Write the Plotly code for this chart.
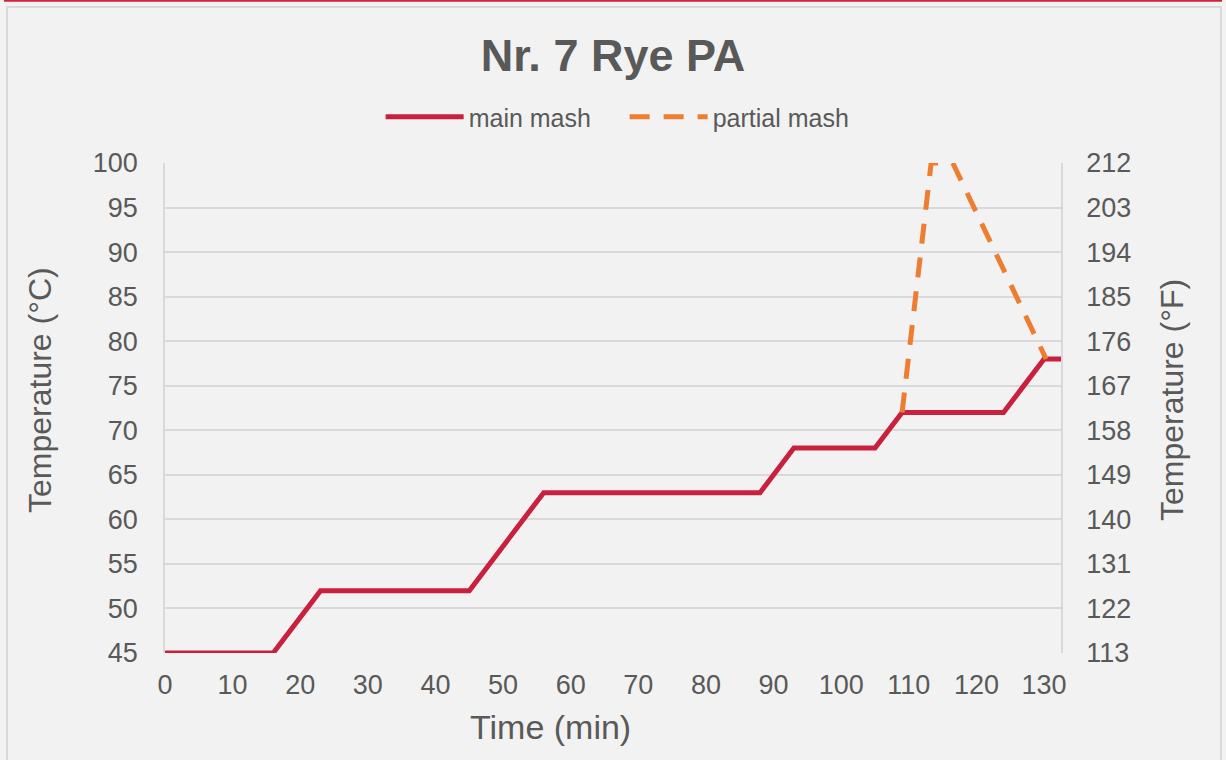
import plotly.graph_objects as go

# ---- data ----
main_time = [0, 16, 23, 45, 56, 88, 93, 105, 109, 124, 130, 132.5]
main_temp = [45, 45, 52, 52, 63, 63, 68, 68, 72, 72, 78, 78]

partial_time = [109, 113.3, 116.5, 130.3]
partial_temp = [72, 100, 100, 78]

title_text = "Nr. 7 Rye PA"
x_title = "Time (min)"
y_title = "Temperature (°C)"
y2_title = "Temperature (°F)"

x_ticks = list(range(0, 131, 10))
y_ticks = list(range(45, 101, 5))
y2_ticks = list(range(113, 213, 9))

TXT = "#595959"
GRID = "#d9d9d9"
FONT = "Liberation Sans, Arial, sans-serif"

main_temp_f = [c * 9 / 5 + 32 for c in main_temp]

fig = go.Figure()
fig.add_trace(go.Scatter(
    x=main_time, y=main_temp, mode="lines", name="main mash",
    line=dict(color="#C9203E", width=5),
))
fig.add_trace(go.Scatter(
    x=partial_time, y=partial_temp, mode="lines", name="partial mash",
    line=dict(color="#ED7D31", width=5, dash="20px,14px"),
))
# invisible trace to carry the Fahrenheit axis
fig.add_trace(go.Scatter(
    x=main_time, y=main_temp_f, mode="lines", yaxis="y2",
    line=dict(color="rgba(0,0,0,0)", width=0),
    showlegend=False, hoverinfo="skip",
))

L, R, T, B = 165, 165, 163, 107
W, H = 1226, 760
pw, ph = W - L - R, H - T - B

def px(xp):
    return (xp - L) / pw

def py(yp):
    return (H - B - yp) / ph

shapes = [
    dict(type="rect", xref="paper", yref="paper",
         x0=px(7), x1=px(1221), y0=py(770), y1=py(7),
         line=dict(color=GRID, width=2), fillcolor="#f2f2f2", layer="below"),
    dict(type="line", xref="paper", yref="paper",
         x0=px(4), x1=px(1222), y0=py(0.8), y1=py(0.8),
         line=dict(color="#D0203E", width=2)),
]

annotations = [
    dict(text=x_title, xref="paper", yref="paper", x=px(550), y=py(727),
         showarrow=False, font=dict(size=34, color=TXT, family=FONT),
         xanchor="center", yanchor="middle"),
    dict(text=y_title, xref="paper", yref="paper", x=px(40), y=py(390),
         showarrow=False, font=dict(size=32, color=TXT, family=FONT),
         textangle=-90, xanchor="center", yanchor="middle"),
    dict(text=y2_title, xref="paper", yref="paper", x=px(1172), y=py(400),
         showarrow=False, font=dict(size=32, color=TXT, family=FONT),
         textangle=-90, xanchor="center", yanchor="middle"),
]

fig.update_layout(
    width=W, height=H,
    margin=dict(l=L, r=R, t=T, b=B, pad=0),
    paper_bgcolor="#f2f2f2", plot_bgcolor="#f2f2f2",
    font=dict(family=FONT, color=TXT),
    title=dict(text="<b>" + title_text + "</b>", x=0.5, xanchor="center",
               y=1 - 55 / H, yanchor="middle", yref="container",
               font=dict(size=45, color=TXT, family=FONT)),
    legend=dict(orientation="h", x=0.513, xanchor="center", y=py(117),
                yanchor="middle", font=dict(size=25, color=TXT, family=FONT),
                bgcolor="rgba(0,0,0,0)", itemwidth=78,
                entrywidth=151, entrywidthmode="pixels"),
    showlegend=True,
    xaxis=dict(range=[0, 132.5], tickvals=x_ticks, showgrid=False,
               zeroline=False, showline=False, ticks="",
               tickfont=dict(size=27, color=TXT, family=FONT),
               ticklabelstandoff=13),
    yaxis=dict(range=[45, 100], tickvals=y_ticks, showgrid=True,
               gridcolor=GRID, gridwidth=1.5, zeroline=False,
               showline=True, linecolor=GRID, linewidth=1.5, ticks="",
               tickfont=dict(size=27, color=TXT, family=FONT),
               ticklabelstandoff=20),
    yaxis2=dict(range=[113, 212], tickvals=y2_ticks, overlaying="y",
                side="right", showgrid=False, zeroline=False,
                showline=True, linecolor=GRID, linewidth=1.5, ticks="",
                tickfont=dict(size=27, color=TXT, family=FONT),
                ticklabelstandoff=18),
    shapes=shapes,
    annotations=annotations,
)

fig.write_html(
    "out.html",
    config={"displayModeBar": False},
    post_script="document.body.style.margin='0';"
                "document.body.style.background='#f2f2f2';",
)
